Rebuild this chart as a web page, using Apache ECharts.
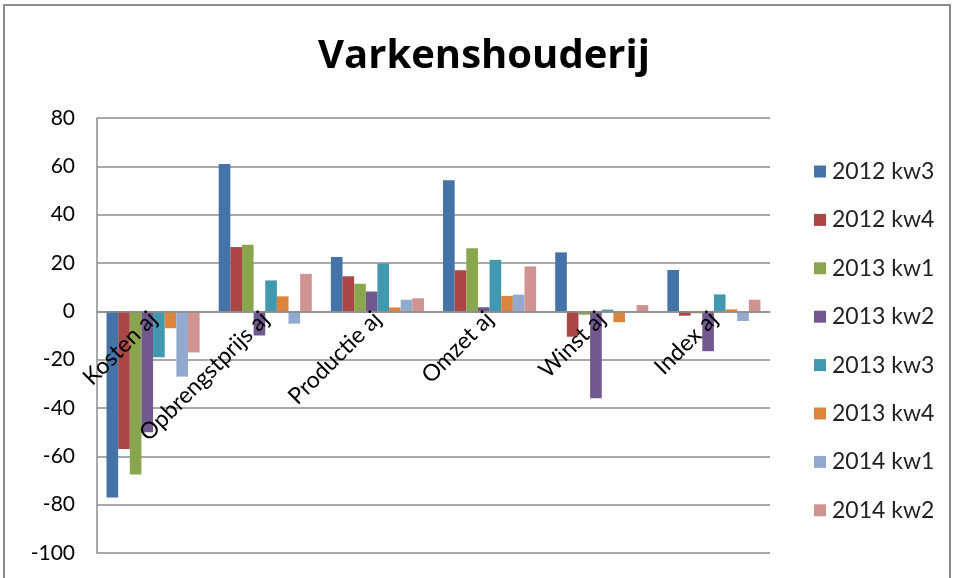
<!DOCTYPE html>
<html>
<head>
<meta charset="utf-8">
<script src="https://cdn.jsdelivr.net/npm/echarts@6/dist/echarts.min.js"></script>
<style>
html,body{margin:0;padding:0;background:#fff;overflow:hidden;}
#frame{position:absolute;left:3px;top:4px;width:948px;height:590px;border:2px solid #8c8c8c;box-sizing:border-box;}
#chart{position:absolute;left:0;top:0;width:953px;height:578px;}
</style>
</head>
<body>
<div id="frame"></div>
<div id="chart"></div>
<script>
const categories = ['Kosten aj','Opbrengstprijs aj','Productie aj','Omzet aj','Winst aj','Index aj'];
const seriesNames = ['2012 kw3','2012 kw4','2013 kw1','2013 kw2','2013 kw3','2013 kw4','2014 kw1','2014 kw2'];
const s2012kw3 = [-77, 61, 22.5, 54.2, 24.4, 17.1];
const s2012kw4 = [-57, 26.6, 14.5, 17, -10.5, -1.8];
const s2013kw1 = [-67.5, 27.6, 11.4, 26.1, -1.4, -0.8];
const s2013kw2 = [-50, -10, 8.2, 1.7, -36, -16.5];
const s2013kw3 = [-19, 12.8, 19.8, 21.3, 0.7, 7];
const s2013kw4 = [-7, 6.2, 1.6, 6.4, -4.5, 0.8];
const s2014kw1 = [-27, -5.1, 4.8, 6.9, 0, -4];
const s2014kw2 = [-17, 15.5, 5.4, 18.6, 2.6, 4.8];
const yTicks = [-100, -80, -60, -40, -20, 0, 20, 40, 60, 80];

const allValues = [s2012kw3, s2012kw4, s2013kw1, s2013kw2, s2013kw3, s2013kw4, s2014kw1, s2014kw2];
const colors = ['#4572A7','#AA4643','#89A54E','#71588F','#4198AF','#DB843D','#93A9CF','#D19392'];
const FONT = 'Lato, "Open Sans", sans-serif';

const GRID_TOP = 118, GRID_BOTTOM_PX = 553, H = 578;
const yMin = yTicks[0], yMax = yTicks[yTicks.length-1];
const plotH = GRID_BOTTOM_PX - GRID_TOP;
const zeroOffset = -plotH * (0 - yMin) / (yMax - yMin);

const chart = echarts.init(document.getElementById('chart'), null, {renderer:'canvas'});
chart.setOption({
  animation: false,
  backgroundColor: 'transparent',
  color: colors,
  title: {
    text: 'Varkenshouderij',
    left: 479, top: 32, textAlign: 'center',
    textStyle: {fontFamily: '"Open Sans", Lato, sans-serif', fontWeight: 'bold', fontSize: 40, color: '#000'}
  },
  legend: {
    orient: 'vertical', left: 809, top: 155,
    itemWidth: 12, itemHeight: 12, itemGap: 25.4,
    icon: 'rect',
    data: seriesNames,
    textStyle: {fontFamily: FONT, fontSize: 23, color: '#222', padding: [0,0,0,1]}
  },
  grid: {left: 97, right: 183, top: GRID_TOP, bottom: H - GRID_BOTTOM_PX, containLabel: false, outerBoundsMode: 'none'},
  xAxis: {
    type: 'category', data: categories,
    position: 'bottom', offset: zeroOffset, z: 10,
    axisLine: {onZero: false, lineStyle: {color: '#8c8c8c', width: 1.5}},
    axisTick: {show: false},
    axisLabel: {rotate: 45, interval: 0, margin: 4, fontFamily: FONT, fontSize: 23, color: '#000'},
    splitLine: {show: false}
  },
  yAxis: {
    type: 'value', min: yMin, max: yMax, interval: 20,
    axisLine: {show: true, lineStyle: {color: '#8c8c8c', width: 1.5}},
    axisTick: {show: false},
    axisLabel: {fontFamily: FONT, fontSize: 21, color: '#000', margin: 22},
    splitLine: {lineStyle: {color: '#8c8c8c', width: 1.5}}
  },
  series: seriesNames.map((n, i) => ({
    name: n, type: 'bar', data: allValues[i],
    barGap: '0%', barCategoryGap: '17%',
    itemStyle: {color: colors[i]}
  }))
});
</script>
</body>
</html>
